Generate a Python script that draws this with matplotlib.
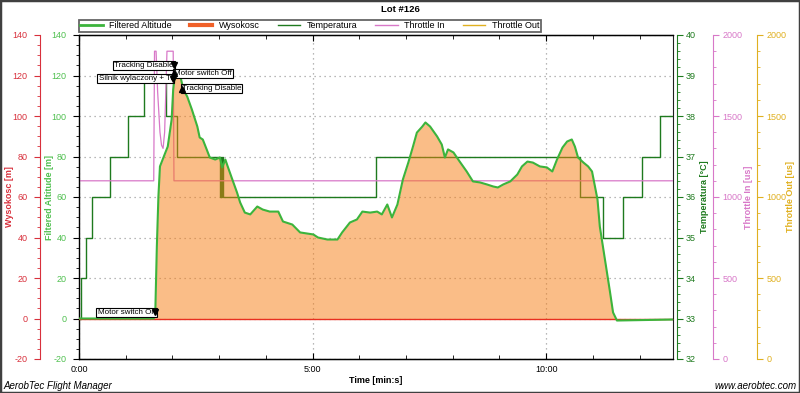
import matplotlib
matplotlib.use("Agg")
import matplotlib.pyplot as plt
from matplotlib.lines import Line2D
from matplotlib.patches import Rectangle
from matplotlib.ticker import MultipleLocator, FuncFormatter

plt.rcParams['font.family'] = ['Liberation Sans', 'DejaVu Sans']
plt.rcParams['axes.unicode_minus'] = False

# Filtered altitude [m] vs time [s]
alt_time = [0, 96, 98, 100, 102, 104, 111, 114, 119, 121, 123, 126, 130, 134, 139, 145,
            152, 155, 159, 164, 168, 175, 181, 184, 188, 191, 197, 203, 207, 213, 220,
            229, 236, 245, 256, 262, 274, 284, 301, 307, 319, 332, 338, 348, 357, 364,
            374, 383, 389, 396, 402, 409, 416, 423, 429, 434, 441, 445, 451, 460, 466,
            470, 474, 481, 489, 498, 506, 515, 524, 532, 538, 545, 554, 563, 569, 576,
            583, 592, 601, 608, 614, 621, 627, 633, 637, 641, 648, 654, 659, 666, 669,
            676, 682, 686, 691, 763]
alt_value = [0, 0, 3.0, 35.6, 60.2, 75.1, 82.0, 84.9, 98.3, 113.1, 119.5, 121.5, 120.0,
             113.1, 109.6, 103.2, 94.8, 89.4, 88.4, 83.5, 79.5, 78.5, 79.5, 74.6, 78.5,
             75.1, 68.6, 62.2, 57.3, 52.3, 51.4, 55.3, 53.8, 52.8, 52.8, 47.9, 46.4, 42.5,
             41.5, 40.0, 39.0, 39.0, 42.5, 47.4, 48.9, 52.8, 52.3, 52.8, 51.4, 56.3, 49.9,
             56.3, 68.6, 77.0, 84.9, 91.8, 94.8, 96.8, 94.8, 89.9, 85.9, 79.5, 83.5, 82.0,
             77.5, 72.6, 67.7, 67.2, 66.2, 65.2, 64.7, 66.2, 67.7, 71.1, 75.1, 77.5, 77.0,
             75.1, 74.6, 72.6, 78.5, 84.4, 87.4, 88.4, 84.9, 79.5, 77.0, 75.1, 72.6, 58.8,
             45.4, 28.1, 13.3, 3.0, -1.0, -0.5]

# Wysokosc [m]
wys_time = [0, 763]
wys_value = [0, 0]

# Temperatura [C], step series
temp_time = [0, 2, 9, 17, 40, 63, 83, 112, 126, 181, 182, 183, 184, 185, 382, 643, 673, 699, 723, 746, 763]
temp_value = [33, 34, 35, 36, 37, 38, 39, 38, 37, 36, 37, 36, 37, 36, 37, 36, 35, 36, 37, 38, 38]

# Throttle In [us]
thr_in_time = [0, 96, 97, 99, 101, 104, 106, 108, 110, 113, 116, 121, 122, 763]
thr_in_value = [1100, 1100, 1900, 1900, 1650, 1400, 1320, 1300, 1400, 1900, 1900, 1900, 1100, 1100]

# events: label, time, altitude, side of label
ev_label = ["Motor switch On", "Tracking Disable", "Silnik wylaczony + Tr",
            "Motor switch Off", "Tracking Disable"]
ev_time = [98, 122, 121, 122, 132]
ev_alt = [3, 125, 118.5, 121, 113.5]
ev_side = ["left", "left", "left", "right", "right"]

C_RED = '#D8303C'
C_ALT = '#3CB43C'
C_ALT_TXT = '#50C050'
C_TEMP = '#1E7A1E'
C_IN = '#D878C8'
C_OUT = '#E0B020'
C_FILL = '#F77D11'

fig = plt.figure(figsize=(8, 3.93), dpi=100)
ax = fig.add_axes([79 / 800, 1 - 359 / 393, 594 / 800, 324 / 393])
ax.set_xlim(0, 763)
ax.set_ylim(-20, 140)

ax_temp = ax.twinx()
ax_in = ax.twinx()
ax_out = ax.twinx()
ax_top = ax.twinx()

# grid on main axis
ax.set_xticks([0, 300, 600])
ax.xaxis.set_minor_locator(MultipleLocator(60))
ax.xaxis.set_major_formatter(FuncFormatter(lambda s, p: "%d:%02d" % (s // 60, s % 60)))
ax.yaxis.set_major_locator(MultipleLocator(20))
ax.yaxis.set_minor_locator(MultipleLocator(5))
ax.grid(True, which='major', color='#A0A0A0', linestyle=(0, (1, 3)), linewidth=0.9)
ax.tick_params(axis='x', which='both', direction='in', top=True, labelsize=6.5, length=4, pad=4)
ax.tick_params(axis='x', which='minor', length=3)
ax.tick_params(axis='y', which='major', length=4, labelsize=6.5, colors=C_ALT_TXT, pad=5)
ax.tick_params(axis='y', which='minor', length=2, colors='black')
ax.tick_params(axis='y', which='major', color='black')
ax.set_ylabel("Filtered Altitude [m]", color=C_ALT_TXT, fontsize=6.5, fontweight='bold')
ax.yaxis.set_label_coords(-0.042, 0.5)
ax.set_xlabel("Time [min:s]", fontsize=6.5, fontweight='bold', labelpad=2)
for s in ax.spines.values():
    s.set_color('#202020')

# temperature
ax_temp.plot(temp_time, temp_value, drawstyle='steps-post', color=C_TEMP, lw=1)
ax_temp.set_ylim(32, 40)
ax_temp.spines['right'].set_position(('axes', 1.0067))
ax_temp.spines['right'].set_color(C_TEMP)
ax_temp.yaxis.set_major_locator(MultipleLocator(1))
ax_temp.yaxis.set_minor_locator(MultipleLocator(0.2))
ax_temp.tick_params(axis='y', which='major', length=4, labelsize=6.5, colors=C_TEMP, pad=2.5)
ax_temp.tick_params(axis='y', which='minor', length=2, color=C_TEMP)
ax_temp.set_ylabel("Temperatura [°C]", color=C_TEMP, fontsize=6.5, fontweight='bold')
ax_temp.yaxis.set_label_coords(1.045, 0.5)

# throttle in
ax_in.plot(thr_in_time, thr_in_value, color=C_IN, lw=0.9)
ax_in.set_ylim(0, 2000)
ax_in.spines['right'].set_position(('axes', 1.0673))
ax_in.spines['right'].set_color(C_IN)
ax_in.yaxis.set_major_locator(MultipleLocator(500))
ax_in.yaxis.set_minor_locator(MultipleLocator(100))
ax_in.tick_params(axis='y', which='major', length=4, labelsize=6.5, colors=C_IN, pad=3)
ax_in.tick_params(axis='y', which='minor', length=2, color=C_IN)
ax_in.set_ylabel("Throttle In [us]", color=C_IN, fontsize=6.5, fontweight='bold')
ax_in.yaxis.set_label_coords(1.119, 0.5)

# throttle out (axis only)
ax_out.set_ylim(0, 2000)
ax_out.spines['right'].set_position(('axes', 1.1414))
ax_out.spines['right'].set_color(C_OUT)
ax_out.yaxis.set_major_locator(MultipleLocator(500))
ax_out.yaxis.set_minor_locator(MultipleLocator(100))
ax_out.tick_params(axis='y', which='major', length=4, labelsize=6.5, colors=C_OUT, pad=3)
ax_out.tick_params(axis='y', which='minor', length=2, color=C_OUT)
ax_out.set_ylabel("Throttle Out [us]", color=C_OUT, fontsize=6.5, fontweight='bold')
ax_out.yaxis.set_label_coords(1.191, 0.5)

# altitude fill + lines on top-most axis, with the red Wysokosc axis on the left
ax_top.set_ylim(-20, 140)
ax_top.fill_between(alt_time, 0, alt_value, color=C_FILL, alpha=0.5, lw=0)
ax_top.plot(wys_time, wys_value, color='#E83020', lw=1)
ax_top.plot(alt_time, alt_value, color=C_ALT, lw=1.5)
ax_top.spines['right'].set_visible(False)
ax_top.spines['left'].set_visible(True)
ax_top.spines['left'].set_position(('axes', -0.0657))
ax_top.spines['left'].set_color(C_RED)
ax_top.yaxis.set_ticks_position('left')
ax_top.yaxis.set_label_position('left')
ax_top.yaxis.set_major_locator(MultipleLocator(20))
ax_top.yaxis.set_minor_locator(MultipleLocator(5))
ax_top.tick_params(axis='y', which='major', length=4, labelsize=6.5, colors=C_RED, pad=5)
ax_top.tick_params(axis='y', which='minor', length=2, color=C_RED)
ax_top.set_ylabel("Wysokosc [m]", color=C_RED, fontsize=6.5, fontweight='bold')
ax_top.yaxis.set_label_coords(-0.109, 0.5)

# event markers
for lab, t, a, side in zip(ev_label, ev_time, ev_alt, ev_side):
    mk = 'v' if side == 'left' else '^'
    ax_top.plot([t], [a], marker=mk, color='black', ms=4, zorder=6)
    ax_top.text(t, a, lab, fontsize=5.8, ha='right' if side == 'left' else 'left', va='center',
                zorder=5, bbox=dict(boxstyle='square,pad=0.15', fc='white', ec='black', lw=0.8))

# legend across the top
handles = [Line2D([], [], color=C_ALT, lw=2),
           Line2D([], [], color='#F06028', lw=3),
           Line2D([], [], color=C_TEMP, lw=1),
           Line2D([], [], color=C_IN, lw=1),
           Line2D([], [], color=C_OUT, lw=1)]
names = ["Filtered Altitude", "Wysokosc", "Temperatura", "Throttle In", "Throttle Out"]
leg = fig.legend(handles, names, loc='upper left', bbox_to_anchor=(79 / 800, 1 - 20 / 393),
                 ncol=5, fontsize=6.5, frameon=True, fancybox=False, borderpad=0.15,
                 handlelength=2.5, columnspacing=2.0, handletextpad=0.7, borderaxespad=0)
leg.get_frame().set_edgecolor('#404040')
leg.get_frame().set_linewidth(1.3)

fig.text(0.5, 1 - 10 / 393, "Lot #126", ha='center', va='center', fontsize=6.8, fontweight='bold')
fig.text(3 / 800, 1 - 386 / 393, "AerobTec Flight Manager", ha='left', va='center',
         fontsize=7, style='italic')
fig.text(797 / 800, 1 - 386 / 393, "www.aerobtec.com", ha='right', va='center',
         fontsize=7, style='italic')

fig.patches.append(Rectangle((0, 0), 1, 1, transform=fig.transFigure, fill=False,
                             edgecolor='#404040', lw=2.5))

fig.savefig("out.png", dpi=100)
